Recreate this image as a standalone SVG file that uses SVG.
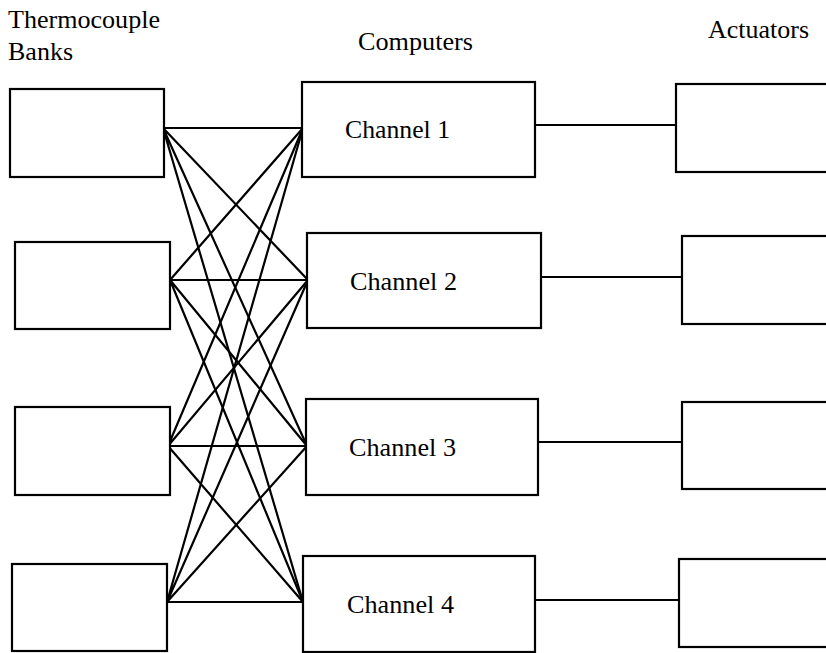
<svg xmlns="http://www.w3.org/2000/svg" width="826" height="653" viewBox="0 0 826 653">
  <style>
    .box { fill: #fff; stroke: #000; stroke-width: 2.2; }
    .wire { stroke: #000; stroke-width: 2.2; fill: none; }
    .lbl { font-family: "Liberation Serif", "Times New Roman", serif; font-size: 26px; fill: #000; }
  </style>
  <rect width="826" height="653" fill="#fff"/>

  <!-- column headings -->
  <g id="headings">
    <text class="lbl" x="8" y="28" textLength="152" lengthAdjust="spacingAndGlyphs">Thermocouple</text>
    <text class="lbl" x="8" y="60">Banks</text>
    <text class="lbl" x="358" y="50" textLength="115" lengthAdjust="spacingAndGlyphs">Computers</text>
    <text class="lbl" x="708" y="38" textLength="101" lengthAdjust="spacingAndGlyphs">Actuators</text>
  </g>

  <!-- connectors: every bank to every channel, each channel to its actuator -->
  <g id="connectors" class="wire">
    <path d="M163,128 L303,128 M163,128 L308,280 M163,128 L307,446 M163,128 L303,602"/>
    <path d="M170,280 L303,128 M170,280 L308,280 M170,280 L307,446 M170,280 L303,602"/>
    <path d="M168,446 L303,128 M168,446 L308,280 M168,446 L307,446 M168,446 L303,602"/>
    <path d="M167,602 L303,128 M167,602 L308,280 M167,602 L307,446 M167,602 L303,602"/>
    <path d="M535,125 L676,125 M541,277 L682,277 M538,442 L682,442 M535,600 L679,600"/>
  </g>

  <!-- thermocouple banks -->
  <g id="bank1"><rect class="box" x="10" y="89" width="154" height="88"/></g>
  <g id="bank2"><rect class="box" x="15" y="242" width="155" height="87"/></g>
  <g id="bank3"><rect class="box" x="15" y="407" width="155" height="88"/></g>
  <g id="bank4"><rect class="box" x="12" y="564" width="155" height="87"/></g>

  <!-- computer channels -->
  <g id="channel1">
    <rect class="box" x="302" y="82" width="233" height="95"/>
    <text class="lbl" x="345" y="138" textLength="105" lengthAdjust="spacingAndGlyphs">Channel 1</text>
  </g>
  <g id="channel2">
    <rect class="box" x="307" y="233" width="234" height="95"/>
    <text class="lbl" x="350" y="290" textLength="107" lengthAdjust="spacingAndGlyphs">Channel 2</text>
  </g>
  <g id="channel3">
    <rect class="box" x="306" y="399" width="232" height="96"/>
    <text class="lbl" x="349" y="456" textLength="107" lengthAdjust="spacingAndGlyphs">Channel 3</text>
  </g>
  <g id="channel4">
    <rect class="box" x="303" y="556" width="232" height="96"/>
    <text class="lbl" x="347" y="613" textLength="107" lengthAdjust="spacingAndGlyphs">Channel 4</text>
  </g>

  <!-- actuators (extend past the right edge) -->
  <g id="actuator1"><rect class="box" x="676" y="84" width="160" height="88"/></g>
  <g id="actuator2"><rect class="box" x="682" y="236" width="160" height="88"/></g>
  <g id="actuator3"><rect class="box" x="682" y="402" width="160" height="87"/></g>
  <g id="actuator4"><rect class="box" x="679" y="559" width="160" height="88"/></g>
</svg>
